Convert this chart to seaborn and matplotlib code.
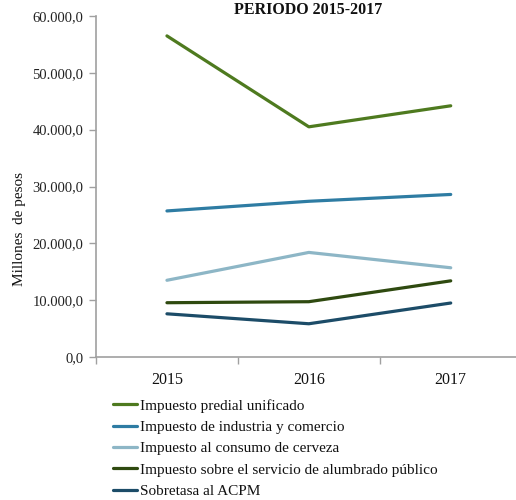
import matplotlib
matplotlib.use("Agg")
import matplotlib.pyplot as plt
import matplotlib.ticker as mticker
import seaborn as sns
import pandas as pd

years = ["2015", "2016", "2017"]
series_names = [
    "Impuesto predial unificado",
    "Impuesto de industria y comercio",
    "Impuesto al consumo de cerveza",
    "Impuesto sobre el servicio de alumbrado público",
    "Sobretasa al ACPM",
]
predial = [56500.0, 40500.0, 44200.0]
industria = [25700.0, 27400.0, 28600.0]
cerveza = [13500.0, 18400.0, 15700.0]
alumbrado = [9550.0, 9730.0, 13400.0]
acpm = [7600.0, 5850.0, 9500.0]
colors = ["#4E7A1F", "#2E7CA3", "#8DB6C6", "#2F4A10", "#1C4C68"]

values = [predial, industria, cerveza, alumbrado, acpm]
df = pd.DataFrame(
    [(name, i, v) for name, vals in zip(series_names, values) for i, v in enumerate(vals)],
    columns=["serie", "x", "valor"],
)

sns.set_theme(style="white")
plt.rcParams["font.family"] = ["Liberation Serif", "DejaVu Serif"]

W, H = 516, 500
fig = plt.figure(figsize=(W / 100, H / 100), dpi=100)
ax = fig.add_axes([96 / W, 1 - 357 / H, (W - 96) / W, (357 - 16) / H])

sns.lineplot(data=df, x="x", y="valor", hue="serie", hue_order=series_names,
             palette=colors, linewidth=2.3, ax=ax, legend=False)

ax.set_xlim(-0.5, 2.46)
ax.set_ylim(0, 60000)
ax.yaxis.set_major_locator(mticker.MultipleLocator(10000))
ax.yaxis.set_major_formatter(mticker.FuncFormatter(
    lambda v, p: f"{v:,.1f}".replace(",", "X").replace(".", ",").replace("X", ".")))
ax.set_xticks([0, 1, 2])
ax.set_xticklabels(years)
ax.set_xticks([-0.5, 0.5, 1.5], minor=True)
ax.tick_params(axis="x", which="major", length=0, pad=11, labelsize=11.5, colors="#111111")
ax.tick_params(axis="x", which="minor", length=5, width=1, color="#a0a0a0", direction="out", bottom=True)
ax.tick_params(axis="y", length=5, width=1, color="#a0a0a0", direction="out", left=True,
               labelsize=10.5, pad=4, colors="#222222")
for s in ["top", "right"]:
    ax.spines[s].set_visible(False)
for s in ["left", "bottom"]:
    ax.spines[s].set_color("#a0a0a0")
    ax.spines[s].set_linewidth(1.2)
ax.set_xlabel("")
ax.set_ylabel("Millones  de pesos", fontsize=11, color="#111111", va="center")
ax.yaxis.set_label_coords(-(96 - 20) / (W - 96), (357 - 229) / 341)

fig.text(308 / W, 1 - 2 / H, "PERIODO 2015-2017", ha="center", va="top",
         fontsize=11.5, fontweight="bold", color="#111111")

handles = [plt.Line2D([], [], color=c, linewidth=2.3) for c in colors]
leg = fig.legend(handles, series_names, loc="upper left",
                 bbox_to_anchor=(113 / W, 1 - 399 / H), frameon=False,
                 fontsize=11, handlelength=1.6, handletextpad=0.15,
                 labelspacing=0.5, borderaxespad=0, borderpad=0)
for t in leg.get_texts():
    t.set_color("#111111")

fig.savefig("out.png", dpi=100)
